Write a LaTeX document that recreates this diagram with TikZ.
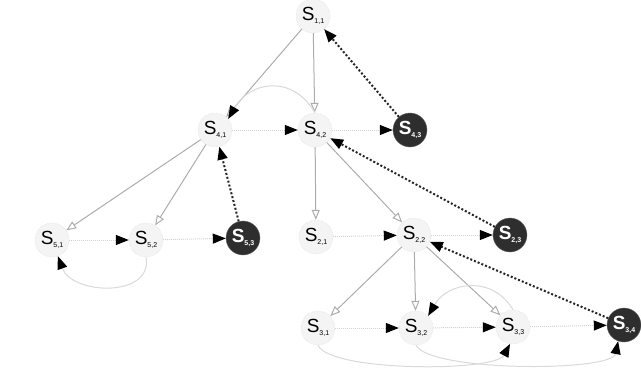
\documentclass[tikz,border=0pt]{standalone}
\usepackage{fontspec}
\setmainfont{Liberation Sans}
\usetikzlibrary{arrows.meta}
\newcommand{\lbl}[1]{S\raisebox{-3pt}{\fontsize{7}{7}\selectfont #1}}
\begin{document}
\begin{tikzpicture}[x=1pt,y=-1pt,
  st/.style={circle,minimum size=34pt,inner sep=0pt,fill=gray!9,draw=gray!35,densely dotted,font=\fontsize{19}{19}\selectfont},
  dk/.style={circle,minimum size=34pt,inner sep=0pt,fill=black!82,draw=black!60,text=white,font=\bfseries\fontsize{19}{19}\selectfont},
  tree/.style={draw=gray!65,line width=1pt,-{Triangle[open,length=10pt,width=8pt]}},
  hor/.style={draw=gray!35,line width=1pt,densely dotted,-{Triangle[length=13pt,width=10pt,color=black,fill=black]}},
  back/.style={draw=black!85,line width=2pt,dotted,-{Triangle[length=13pt,width=10pt,color=black,fill=black]}},
  loopc/.style={draw=gray!30,line width=1pt,-{Triangle[length=13pt,width=10pt,color=black,fill=black]}}
]
\useasboundingbox (0,0) rectangle (641,370);
\node[st] (S11) at (313,16) {\lbl{1,1}};
\node[st] (S41) at (215,130) {\lbl{4,1}};
\node[st] (S42) at (315,130) {\lbl{4,2}};
\node[dk] (S43) at (410,130) {\lbl{4,3}};
\node[st] (S51) at (52,240) {\lbl{5,1}};
\node[st] (S52) at (146,240) {\lbl{5,2}};
\node[dk] (S53) at (243,238) {\lbl{5,3}};
\node[st] (S21) at (316,237) {\lbl{2,1}};
\node[st] (S22) at (414,235) {\lbl{2,2}};
\node[dk] (S23) at (510,235) {\lbl{2,3}};
\node[st] (S31) at (318,328) {\lbl{3,1}};
\node[st] (S32) at (416,328) {\lbl{3,2}};
\node[st] (S33) at (513,327) {\lbl{3,3}};
\node[dk] (S34) at (624,325) {\lbl{3,4}};
% tree edges
\draw[tree] (S11) -- (S41);
\draw[tree] (S11) -- (S42);
\draw[tree] (S41) -- (S51);
\draw[tree] (S41) -- (S52);
\draw[tree] (S42) -- (S21);
\draw[tree] (S42) -- (S22);
\draw[tree] (S22) -- (S31);
\draw[tree] (S22) -- (S32);
\draw[tree] (S22) -- (S33);
% horizontal edges
\draw[hor] (S41) -- (S42);
\draw[hor] (S42) -- (S43);
\draw[hor] (S51) -- (S52);
\draw[hor] (S52) -- (S53);
\draw[hor] (S21) -- (S22);
\draw[hor] (S22) -- (S23);
\draw[hor] (S31) -- (S32);
\draw[hor] (S32) -- (S33);
\draw[hor] (S33) -- (S34);
% back edges
\draw[back] (S43) -- (S11);
\draw[back] (S53) -- (S41);
\draw[back] (S23) -- (S42);
\draw[back] (S34) -- (S22);
% loops
\draw[loopc] (S42.north) to[out=120,in=60,looseness=1.3] (S41.40);
\draw[loopc] (S52.south) to[out=-80,in=-70,looseness=1.2] (S51.-70);
\draw[loopc] (S33.north) to[out=120,in=60,looseness=1.2] (S32.45);
\draw[loopc] (S31.south) .. controls (330,372) and (495,372) .. (S33.-100);
\draw[loopc] (S32.south) .. controls (430,372) and (612,372) .. (S34.-110);
\end{tikzpicture}
\end{document}
